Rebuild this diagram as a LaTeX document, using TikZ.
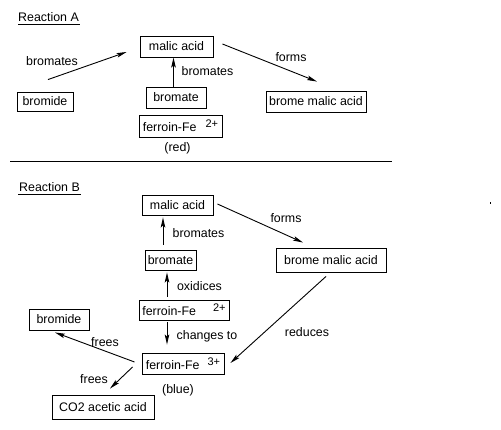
\documentclass[tikz,border=0pt]{standalone}
\usepackage{fontspec}
\setmainfont{Liberation Sans}
\usetikzlibrary{arrows.meta}
\begin{document}
\begin{tikzpicture}[x=1pt,y=-1pt,
  every node/.style={font=\fontsize{12.4}{14}\selectfont, inner sep=0pt},
  box/.style 2 args={draw, line width=0.9pt, minimum width=#1pt, minimum height=#2pt},
  arr/.style={-{Stealth[length=10pt,width=4.5pt,inset=2pt]}, line width=0.9pt},
  rule/.style={line width=0.9pt}]
\path[use as bounding box, fill=white] (0,0) rectangle (501,429);
\newcommand{\chg}[2]{ferroin-Fe\hspace{#1pt}\raisebox{4pt}{\fontsize{11}{11}\selectfont #2}}

% Reaction A
\node[anchor=base west] (rA) at (18,21.5) {Reaction A};
\draw[rule] ([shift={(0,3)}]rA.base west) -- ([shift={(1,3)}]rA.base east);

\node[box={73}{21}] (malicA) at (176.5,46.5) {malic acid};
\node[box={56}{19}] (bromideA) at (45,101.5) {bromide};
\node[box={60}{21}] (bromateA) at (176,97.5) {bromate};
\node[box={83}{22}] (ferroinA) at (180.5,126) {\chg{9}{2+}};
\node (redA) at (177.5,148) {(red)};
\node[box={100}{21}] (bromeA) at (316,101.5) {brome malic acid};

\node (lbA1) at (52,61) {bromates};
\node (lbA2) at (207.5,71) {bromates};
\node (lbA3) at (291,57) {forms};

\draw[arr] ([shift={(3,-12)}]bromideA.north) -- ([shift={(-13,5.5)}]malicA.west);
\draw[arr] ([shift={(-2.5,0)}]bromateA.north) -- ([shift={(-3,0)}]malicA.south);
\draw[arr] ([shift={(9,-2.5)}]malicA.east) -- ([shift={(1,-9)}]bromeA.north);

% separator
\draw[rule] (10,161) -- (392,161);

% Reaction B
\node[anchor=base west] (rB) at (19,191.5) {Reaction B};
\draw[rule] ([shift={(-1,3)}]rB.base west) -- ([shift={(1,3)}]rB.base east);

\node[box={71}{20}] (malicB) at (177.5,205) {malic acid};
\node[box={51}{20}] (bromateB) at (170.5,260) {bromate};
\node[box={90}{20}] (ferroin2B) at (184,310) {\chg{17}{2+}};
\node[box={82}{21}] (ferroin3B) at (183,363.5) {\chg{8}{3+}};
\node (blueB) at (178,390) {(blue)};
\node[box={110}{24}] (bromeB) at (331,260) {brome malic acid};
\node[box={60}{21}] (bromideB) at (59,319.5) {bromide};
\node[box={102}{24}] (co2B) at (103,407) {CO2 acetic acid};

\node (lbB1) at (198.5,233) {bromates};
\node (lbB2) at (199.5,286) {oxidices};
\node (lbB3) at (207,336) {changes to};
\node (lbB4) at (286,218) {forms};
\node (lbB5) at (307,332) {reduces};
\node (lbB6) at (105,342) {frees};
\node (lbB7) at (94,379) {frees};

\draw[arr] ([shift={(-7.5,-5)}]bromateB.north) -- ([shift={(-14.5,2)}]malicB.south);
\draw[arr] ([shift={(-17,-3)}]ferroin2B.north) -- ([shift={(-3.5,2)}]bromateB.south);
\draw[arr] ([shift={(-17,2)}]ferroin2B.south) -- ([shift={(-16,-8)}]ferroin3B.north);
\draw[arr] ([shift={(4,-1)}]malicB.east) -- ([shift={(-28,-5)}]bromeB.north);
\draw[arr] ([shift={(-5,4)}]bromeB.south) -- ([shift={(6,-0.5)}]ferroin3B.east);
\draw[arr] ([shift={(-7,-1.5)}]ferroin3B.west) -- ([shift={(-4,2)}]bromideB.south);
\draw[arr] ([shift={(-9,3.5)}]ferroin3B.west) -- ([shift={(7,-6)}]co2B.north);

% stray mark
\fill (489.5,202) rectangle (490.5,204);
\end{tikzpicture}
\end{document}
